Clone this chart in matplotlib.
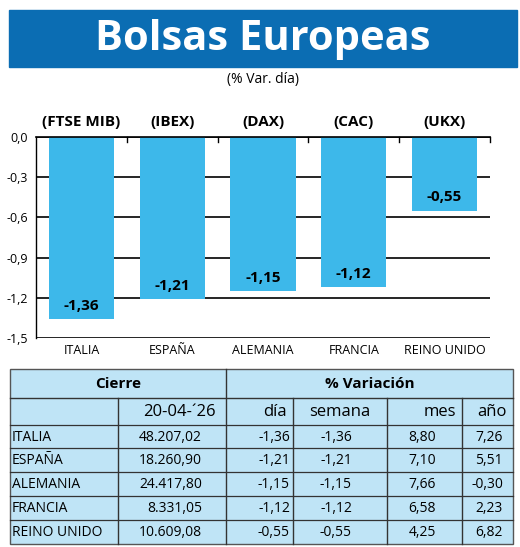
import matplotlib.pyplot as plt
from matplotlib.patches import Rectangle

plt.rcParams['font.family'] = ['Open Sans', 'DejaVu Sans']

paises = ['ITALIA', 'ESPAÑA', 'ALEMANIA', 'FRANCIA', 'REINO UNIDO']
indices = ['(FTSE MIB)', '(IBEX)', '(DAX)', '(CAC)', '(UKX)']
var_dia = [-1.36, -1.21, -1.15, -1.12, -0.55]
cierre = ['48.207,02', '18.260,90', '24.417,80', '8.331,05', '10.609,08']
semana = ['-1,36', '-1,21', '-1,15', '-1,12', '-0,55']
mes = ['8,80', '7,10', '7,66', '6,58', '4,25']
anio = ['7,26', '5,51', '-0,30', '2,23', '6,82']
yticks = [0.0, -0.3, -0.6, -0.9, -1.2, -1.5]

W, H = 520, 547
fig = plt.figure(figsize=(W / 100, H / 100), dpi=100)

# full-figure overlay in pixel coords (y down)
bg = fig.add_axes([0, 0, 1, 1])
bg.set_xlim(0, W)
bg.set_ylim(H, 0)
bg.axis('off')

blue = '#0b6db3'
bar_c = '#3db8ea'
tab_c = '#bfe4f6'

bg.add_patch(Rectangle((9, 10), 508, 57, color=blue))
bg.text(263, 40, 'Bolsas Europeas', color='white', fontsize=30, fontweight='bold',
        ha='center', va='center')
bg.text(263, 80, '(% Var. día)', fontsize=10, ha='center', va='center')

# bar chart
ax = fig.add_axes([36 / W, 1 - 338 / H, (490 - 36) / W, (338 - 137) / H])
x = list(range(len(paises)))
ax.bar(x, var_dia, width=0.72, color=bar_c, zorder=2)
ax.set_xlim(-0.5, len(paises) - 0.5)
ax.set_ylim(-1.5, 0)
ax.set_yticks(yticks)
ax.set_yticklabels([f'{v:.1f}'.replace('.', ',') for v in yticks], fontsize=9)
ax.grid(axis='y', color='black', lw=1.2, zorder=1)
ax.set_xticks([])
for s in ['right', 'bottom']:
    ax.spines[s].set_visible(False)
ax.spines['top'].set_linewidth(1.2)
ax.spines['left'].set_linewidth(1.0)
ax.tick_params(axis='y', length=0, pad=6)
for i in range(1, len(paises) + 1):
    ax.plot([i - 0.5, i - 0.5], [0, -0.04], color='black', lw=1, clip_on=False, zorder=3)
for i, v in enumerate(var_dia):
    ax.text(i, v + 0.1, f'{v:.2f}'.replace('.', ','), ha='center', va='center',
            fontsize=11, fontweight='bold', zorder=4)
    ax.text(i, 0.11, indices[i], ha='center', va='center', fontsize=11, fontweight='bold')
    ax.text(i, -1.59, paises[i], ha='center', va='center', fontsize=9)

# table
L, R, T, B = 10, 513, 369, 544
bg.add_patch(Rectangle((L, T), R - L, B - T, facecolor=tab_c, edgecolor='#555555', lw=1))
cols = [L, 118, 226, 293, 387, 462, R]
rows = [T, 398, 425, 448, 472, 496, 520, B]
lc = '#333333'
bg.plot([L, R], [rows[1], rows[1]], color=lc, lw=1)
bg.plot([cols[2], cols[2]], [T, B], color=lc, lw=1)
for cx in [cols[1], cols[3], cols[4], cols[5]]:
    bg.plot([cx, cx], [rows[1], B], color=lc, lw=1)
for ry in rows[2:-1]:
    bg.plot([L, R], [ry, ry], color=lc, lw=0.9)
bg.text((L + cols[2]) / 2, (T + rows[1]) / 2, 'Cierre', fontsize=11, fontweight='bold',
        ha='center', va='center')
bg.text((cols[2] + R) / 2, (T + rows[1]) / 2, '% Variación', fontsize=11, fontweight='bold',
        ha='center', va='center')
hy = (rows[1] + rows[2]) / 2
bg.text(cols[2] - 10, hy, '20-04-´26', fontsize=12, ha='right', va='center')
for c, lab in zip(range(3, 7), ['día', 'semana', 'mes', 'año']):
    xc = cols[c] - 6 if lab != 'semana' else (cols[3] + cols[4]) / 2
    bg.text(xc, hy, lab, fontsize=12, ha='right' if lab != 'semana' else 'center', va='center')
dia_s = [f'{v:.2f}'.replace('.', ',') for v in var_dia]
for r in range(len(paises)):
    y = (rows[r + 2] + rows[r + 3]) / 2 + 1
    bg.text(L + 2, y, paises[r], fontsize=10, ha='left', va='center')
    bg.text(cols[2] - 24, y, cierre[r], fontsize=10, ha='right', va='center')
    bg.text(cols[3] - 3, y, dia_s[r], fontsize=10, ha='right', va='center')
    bg.text(cols[4] - 35, y, semana[r], fontsize=10, ha='right', va='center')
    bg.text(cols[5] - 26, y, mes[r], fontsize=10, ha='right', va='center')
    bg.text(cols[6] - 10, y, anio[r], fontsize=10, ha='right', va='center')

fig.savefig('out.png', dpi=100)
